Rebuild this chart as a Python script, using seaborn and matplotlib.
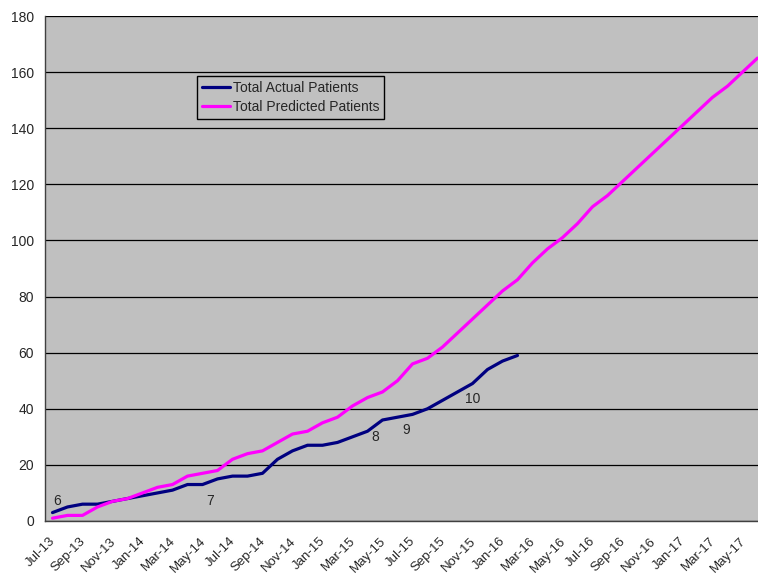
import numpy as np
import pandas as pd
import matplotlib
matplotlib.use("Agg")
import matplotlib.pyplot as plt
import matplotlib.transforms as mtransforms
import seaborn as sns

# monthly categories, Jul-13 .. Jun-17
months = ["Jul-13", "Aug-13", "Sep-13", "Oct-13", "Nov-13", "Dec-13",
          "Jan-14", "Feb-14", "Mar-14", "Apr-14", "May-14", "Jun-14",
          "Jul-14", "Aug-14", "Sep-14", "Oct-14", "Nov-14", "Dec-14",
          "Jan-15", "Feb-15", "Mar-15", "Apr-15", "May-15", "Jun-15",
          "Jul-15", "Aug-15", "Sep-15", "Oct-15", "Nov-15", "Dec-15",
          "Jan-16", "Feb-16", "Mar-16", "Apr-16", "May-16", "Jun-16",
          "Jul-16", "Aug-16", "Sep-16", "Oct-16", "Nov-16", "Dec-16",
          "Jan-17", "Feb-17", "Mar-17", "Apr-17", "May-17", "Jun-17"]

actual = [3, 5, 6, 6, 7, 8, 9, 10, 11, 13, 13, 15,
          16, 16, 17, 22, 25, 27, 27, 28, 30, 32,
          36, 37, 38, 40, 43, 46, 49, 54, 57, 59]

predicted = [1, 2, 2, 5, 7, 8, 10, 12, 13, 16, 17, 18,
             22, 24, 25, 28, 31, 32, 35, 37, 41, 44,
             46, 50, 56, 58, 62, 67, 72, 77, 82, 86,
             92, 97, 101, 106, 112, 116, 121, 126, 131, 136,
             141, 146, 151, 155, 160, 165]

# small numbers written on the plot
notes = ["6", "7", "8", "9", "10"]
note_month = [0.3, 10.5, 21.5, 23.6, 28.0]
note_value = [7.2, 7.2, 29.8, 32.4, 43.6]

df = pd.concat([
    pd.DataFrame({"pos": range(len(actual)), "patients": actual,
                  "series": "Total Actual Patients"}),
    pd.DataFrame({"pos": range(len(predicted)), "patients": predicted,
                  "series": "Total Predicted Patients"}),
])

sns.set_style("white")
plt.rcParams["font.family"] = ["Liberation Sans", "DejaVu Sans"]

fig = plt.figure(figsize=(7.58, 5.76), dpi=100)
ax = fig.add_axes([45 / 758, 55 / 576, 720 / 758, 505 / 576])
ax.set_facecolor("#C0C0C0")

sns.lineplot(data=df, x="pos", y="patients", hue="series",
             palette=["#000080", "#FF00FF"], linewidth=2.3, ax=ax)

ax.set_xlim(-0.5, len(months) - 0.5)
ax.set_ylim(0, 180)
ax.set_yticks(range(0, 181, 20))
ax.yaxis.grid(True, color="black", linewidth=0.9)
ax.xaxis.grid(False)
ax.set_axisbelow(True)

# tick marks between categories, labels under every second month
ax.set_xticks(np.arange(-0.5, len(months), 2))
ax.set_xticklabels([])
ax.set_xticks(range(0, len(months), 2), minor=True)
ax.set_xticklabels(months[::2], minor=True, rotation=45, ha="right",
                   rotation_mode="anchor", fontsize=9.5)
ax.tick_params(axis="x", which="major", direction="out", length=5,
               width=1, color="black")
ax.tick_params(axis="x", which="minor", length=0, pad=10)
ax.tick_params(axis="y", direction="out", length=5, width=1,
               color="black", labelsize=10, pad=3)
shift = mtransforms.ScaledTranslation(-3 / 100, 0, fig.dpi_scale_trans)
for lab in ax.get_xticklabels(minor=True):
    lab.set_transform(lab.get_transform() + shift)
ax.set_xlabel("")
ax.set_ylabel("")

for s in ["top", "right"]:
    ax.spines[s].set_visible(False)
for s in ["left", "bottom"]:
    ax.spines[s].set_color("#404040")
    ax.spines[s].set_linewidth(1)

for t, xm, yv in zip(notes, note_month, note_value):
    ax.text(xm, yv, t, ha="center", va="center", fontsize=10)

handles, labels = ax.get_legend_handles_labels()
leg = ax.legend(handles, labels, loc="upper left",
                bbox_to_anchor=(0.211, 0.881), borderaxespad=0,
                fontsize=10, frameon=True, fancybox=False,
                edgecolor="black", facecolor="#C0C0C0", framealpha=1,
                handlelength=2.0, handletextpad=0.25, labelspacing=0.35,
                borderpad=0.35)
leg.get_frame().set_linewidth(1)

fig.savefig("out.png", dpi=100)
